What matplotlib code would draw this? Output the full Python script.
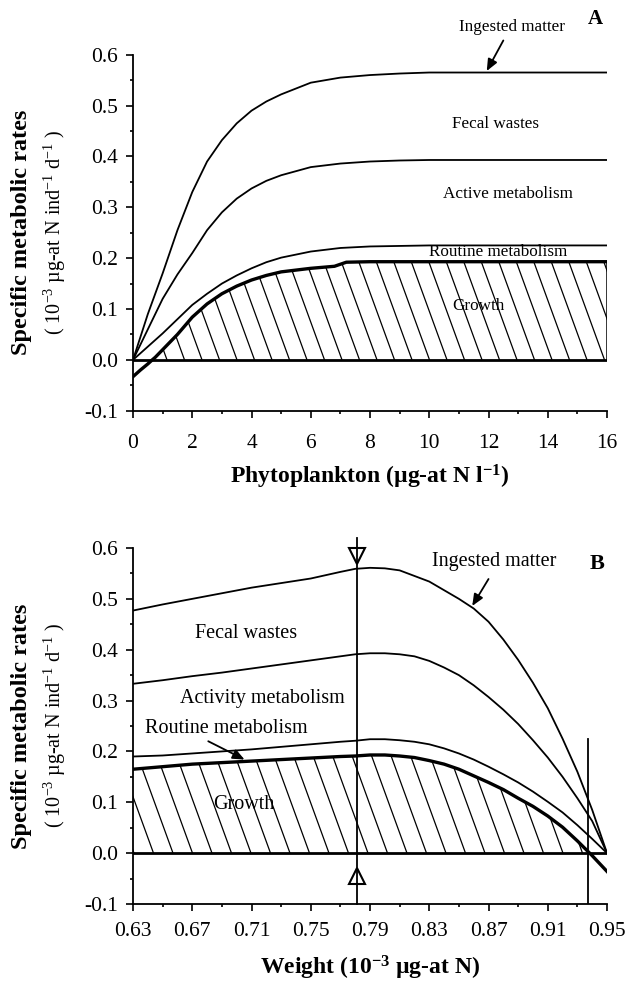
import numpy as np
import matplotlib
matplotlib.use("Agg")
import matplotlib.pyplot as plt
from matplotlib.collections import LineCollection
from matplotlib.path import Path
from matplotlib.transforms import IdentityTransform

plt.rcParams['font.family'] = ['Liberation Serif', 'DejaVu Serif']
plt.rcParams['mathtext.fontset'] = 'custom'
plt.rcParams['mathtext.rm'] = 'Liberation Serif'
plt.rcParams['mathtext.it'] = 'Liberation Serif:italic'
plt.rcParams['mathtext.bf'] = 'Liberation Serif:bold'
plt.rcParams['axes.unicode_minus'] = False

# Panel A : rates vs phytoplankton
phyto = [0, 0.25, 0.5, 0.75, 1, 1.5, 2, 2.5, 3, 3.5, 4, 4.5, 5, 6, 7, 8, 9, 10, 12, 14, 16]
ingested_a = [0, 0.045, 0.09, 0.13, 0.17, 0.255, 0.33, 0.39, 0.432, 0.465, 0.49, 0.508, 0.522, 0.545, 0.555, 0.56, 0.563, 0.565, 0.565, 0.565, 0.565]
active_a = [0, 0.03, 0.06, 0.09, 0.12, 0.168, 0.21, 0.255, 0.29, 0.317, 0.337, 0.352, 0.363, 0.379, 0.386, 0.39, 0.392, 0.393, 0.393, 0.393, 0.393]
routine_a = [0, 0.013, 0.026, 0.039, 0.052, 0.08, 0.108, 0.13, 0.15, 0.166, 0.18, 0.192, 0.201, 0.213, 0.22, 0.223, 0.224, 0.225, 0.225, 0.225, 0.225]
phyto_g = [0, 0.25, 0.5, 0.65, 0.75, 1, 1.5, 2, 2.5, 3, 3.5, 4, 4.5, 5, 6, 6.8, 7.2, 8, 10, 12, 14, 16]
growth_a = [-0.033, -0.02, -0.008, 0.0, 0.005, 0.02, 0.05, 0.084, 0.11, 0.13, 0.145, 0.157, 0.166, 0.173, 0.18, 0.184, 0.192, 0.193, 0.193, 0.193, 0.193, 0.193]

# Panel B : rates vs weight
weight = [0.63, 0.65, 0.67, 0.69, 0.71, 0.73, 0.75, 0.77, 0.78, 0.79, 0.80, 0.81, 0.82,
          0.83, 0.84, 0.85, 0.86, 0.87, 0.88, 0.89, 0.90, 0.91, 0.92, 0.93, 0.94, 0.95]
ingested_b = [0.477, 0.489, 0.500, 0.511, 0.522, 0.531, 0.540, 0.553, 0.559, 0.561, 0.560, 0.556, 0.545,
              0.534, 0.517, 0.500, 0.481, 0.455, 0.420, 0.380, 0.335, 0.285, 0.225, 0.160, 0.085, 0.0]
active_b = [0.333, 0.340, 0.348, 0.355, 0.363, 0.371, 0.379, 0.387, 0.391, 0.393, 0.393, 0.391, 0.387,
            0.378, 0.365, 0.350, 0.330, 0.307, 0.282, 0.254, 0.222, 0.188, 0.150, 0.108, 0.063, 0.0]
routine_b = [0.190, 0.192, 0.196, 0.200, 0.204, 0.209, 0.214, 0.219, 0.221, 0.224, 0.224, 0.222, 0.219,
             0.214, 0.206, 0.196, 0.184, 0.170, 0.155, 0.139, 0.121, 0.101, 0.080, 0.055, 0.028, 0.0]
growth_b = [0.165, 0.170, 0.175, 0.178, 0.181, 0.184, 0.187, 0.190, 0.191, 0.193, 0.193, 0.191, 0.188,
            0.182, 0.175, 0.165, 0.152, 0.139, 0.125, 0.108, 0.092, 0.073, 0.051, 0.024, -0.005, -0.036]
w_marker = 0.781
w_zero = 0.937


def hatch(ax, coll, step=18, angle=70, lw=0.9):
    # diagonal hatching clipped to the filled region
    bb = ax.get_window_extent()
    dx = (bb.y1 - bb.y0) / np.tan(np.radians(angle))
    segs = [[(x, bb.y0), (x - dx, bb.y1)] for x in np.arange(bb.x0, bb.x1 + dx + step, step)]
    lc = LineCollection(segs, colors='k', linewidths=lw, transform=IdentityTransform())
    ax.add_collection(lc, autolim=False)
    path = Path.make_compound_path(*coll.get_paths())
    lc.set_clip_path(path, ax.transData)


def style(ax, xpad):
    for s in ['top', 'right']:
        ax.spines[s].set_visible(False)
    for s in ['left', 'bottom']:
        ax.spines[s].set_linewidth(1.3)
    ax.set_ylim(-0.1, 0.6)
    ax.set_yticks(np.arange(-0.1, 0.61, 0.1))
    ax.set_yticks(np.arange(-0.05, 0.6, 0.1), minor=True)
    ax.yaxis.set_major_formatter(plt.FormatStrFormatter('%.1f'))
    ax.tick_params(which='major', direction='out', length=5, width=1.2, labelsize=15.5, pad=6)
    ax.tick_params(axis='x', which='major', pad=xpad)
    ax.tick_params(which='minor', direction='out', length=2.5, width=1.2)
    ax.text(-0.235, 0.5, 'Specific metabolic rates', transform=ax.transAxes, rotation=90,
            ha='center', va='center', fontsize=17.5, fontweight='bold')
    ax.text(-0.165, 0.5, '( 10$^{-3}$ µg-at N ind$^{-1}$ d$^{-1}$ )', transform=ax.transAxes,
            rotation=90, ha='center', va='center', fontsize=14.5)


fig = plt.figure(figsize=(6.31, 9.84), dpi=100)
axA = fig.add_axes([0.2108, 0.5826, 0.7512, 0.3618])
axB = fig.add_axes([0.2108, 0.0813, 0.7512, 0.3618])

# ---- Panel A
style(axA, 11.5)
axA.set_xlim(0, 16)
axA.set_xticks(np.arange(0, 17, 2))
axA.set_xticks(np.arange(1, 16, 2), minor=True)
axA.set_xlabel('Phytoplankton (µg-at N l$^{\\mathbf{-1}}$)', fontsize=17, fontweight='bold', labelpad=7.5)
for ys in [ingested_a, active_a, routine_a]:
    axA.plot(phyto, ys, color='k', lw=1.3)
axA.plot(phyto_g, growth_a, color='k', lw=2.4)
axA.axhline(0, color='k', lw=2)
axA.vlines(phyto_g[-1], 0, growth_a[-1], color='k', lw=1.1)
g = np.array(growth_a)
fa = axA.fill_between(phyto_g, 0, g, where=g >= 0, interpolate=True, color='none', lw=0)
axA.text(12.8, 0.654, 'Ingested matter', ha='center', va='center', fontsize=12.3, clip_on=False)
axA.annotate('', xy=(11.94, 0.568), xytext=(12.5, 0.628),
             arrowprops=dict(arrowstyle='-|>,head_length=0.7,head_width=0.3', color='k', lw=1.3,
                             shrinkA=0, shrinkB=0), annotation_clip=False)
axA.text(15.6, 0.67, 'A', ha='center', va='center', fontsize=15, fontweight='bold', clip_on=False)
axA.text(12.22, 0.4635, 'Fecal wastes', ha='center', va='center', fontsize=12.3)
axA.text(12.67, 0.327, 'Active metabolism', ha='center', va='center', fontsize=12.3)
axA.text(12.33, 0.213, 'Routine metabolism', ha='center', va='center', fontsize=12.3)
axA.text(11.65, 0.106, 'Growth', ha='center', va='center', fontsize=12.3)

# ---- Panel B
style(axB, 8.2)
axB.set_xlim(0.63, 0.95)
axB.set_xticks(np.arange(0.63, 0.951, 0.04))
axB.set_xticks(np.arange(0.65, 0.95, 0.04), minor=True)
axB.xaxis.set_major_formatter(plt.FormatStrFormatter('%.2f'))
axB.set_xlabel('Weight (10$^{\\mathbf{-3}}$ µg-at N)', fontsize=17, fontweight='bold', labelpad=9)
for ys in [ingested_b, active_b, routine_b]:
    axB.plot(weight, ys, color='k', lw=1.3)
axB.plot(weight, growth_b, color='k', lw=2.4)
axB.axhline(0, color='k', lw=2)
gb = np.array(growth_b)
fb = axB.fill_between(weight, 0, gb, where=gb >= 0, interpolate=True, color='none', lw=0)
axB.plot([w_marker, w_marker], [-0.1, 0.62], color='k', lw=1.3, clip_on=False)
axB.plot([w_marker], [0.584], marker='v', ms=11, mfc='none', mec='k', mew=1.5, clip_on=False)
axB.plot([w_marker], [-0.044], marker='^', ms=11, mfc='none', mec='k', mew=1.5)
axB.plot([w_zero, w_zero], [-0.1, 0.224], color='k', lw=1.3)
axB.text(0.874, 0.573, 'Ingested matter', ha='center', va='center', fontsize=14.5)
axB.annotate('', xy=(0.859, 0.486), xytext=(0.870, 0.539),
             arrowprops=dict(arrowstyle='-|>,head_length=0.7,head_width=0.3', color='k', lw=1.3,
                             shrinkA=0, shrinkB=0))
axB.text(0.943, 0.569, 'B', ha='center', va='center', fontsize=16, fontweight='bold')
axB.text(0.706, 0.431, 'Fecal wastes', ha='center', va='center', fontsize=14.5)
axB.text(0.7175, 0.304, 'Activity metabolism', ha='center', va='center', fontsize=14.5)
axB.text(0.693, 0.245, 'Routine metabolism', ha='center', va='center', fontsize=14.5)
axB.annotate('', xy=(0.7053, 0.184), xytext=(0.6808, 0.220),
             arrowprops=dict(arrowstyle='-|>,head_length=0.7,head_width=0.3', color='k', lw=1.3,
                             shrinkA=0, shrinkB=0))
axB.text(0.705, 0.095, 'Growth', ha='center', va='center', fontsize=14.5)

hatch(axA, fa, step=17.5)
hatch(axB, fb, step=19.5)

fig.savefig('out.png', dpi=100)
